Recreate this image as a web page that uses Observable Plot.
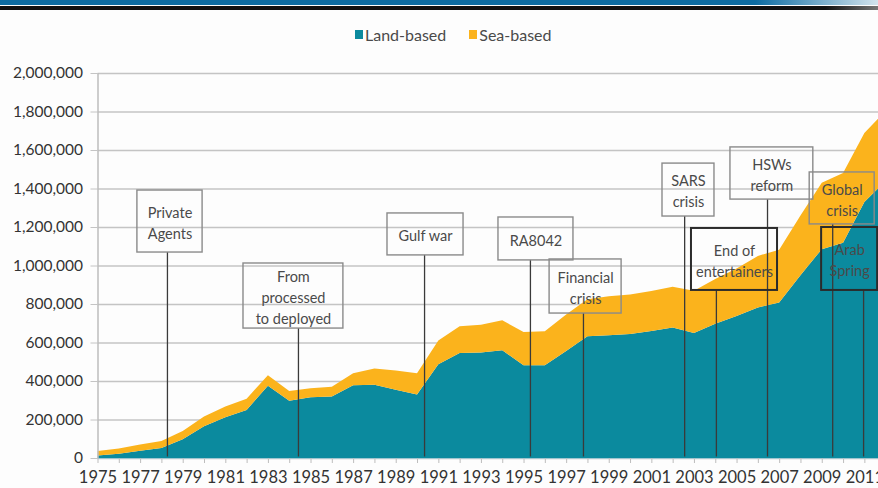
<!DOCTYPE html>
<html>
<head>
<meta charset="utf-8">
<script src="https://cdn.jsdelivr.net/npm/d3@7"></script>
<script src="https://cdn.jsdelivr.net/npm/@observablehq/plot@0.6"></script>
<style>
  html, body { margin: 0; padding: 0; }
  body { width: 878px; height: 488px; overflow: hidden; position: relative; background: #fdfdfd; font-family: Lato, "Open Sans", sans-serif; }
  #bar { position: absolute; left: 0; top: 0; width: 878px; height: 5px; background: linear-gradient(to right, #0d6ca2 0%, #0d6ca2 86%, #d3e4ee 100%); }
  #rule { position: absolute; left: 0; top: 6px; width: 878px; height: 4px; background: linear-gradient(to right, #111 0%, #111 94%, #777 100%); }
  #legend { position: absolute; top: 24px; left: 355px; height: 20px; display: flex; align-items: center; font-size: 16px; color: #4a4a4a; white-space: nowrap; }
  #legend .sw { display: inline-block; width: 8px; height: 9px; margin-right: 2px; }
  #legend .gap { display: inline-block; width: 23px; }
  #chart { position: absolute; left: 0; top: 50px; }
</style>
</head>
<body>
<div id="bar"></div>
<div id="rule"></div>
<div id="legend"></div>
<div id="chart"></div>
<script>
// ---- data ----
const years = [1975,1976,1977,1978,1979,1980,1981,1982,1983,1984,1985,1986,1987,1988,1989,1990,1991,1992,1993,1994,1995,1996,1997,1998,1999,2000,2001,2002,2003,2004,2005,2006,2007,2008,2009,2010,2011,2012];
const landBased = [13000,22000,38000,52000,98000,165000,212000,250000,375000,298000,315000,320000,378000,380000,355000,330000,487000,545000,548000,560000,482000,482000,556000,632000,638000,644000,660000,678000,650000,698000,738000,782000,808000,950000,1085000,1118000,1330000,1440000];
const seaBased  = [24000,28000,32000,36000,42000,50000,55000,58000,55000,50000,47000,50000,62000,85000,100000,110000,123000,139000,144000,155000,173000,176000,190000,193000,202000,206000,208000,212000,219000,232000,247000,268000,274000,310000,345000,362000,358000,365000];
const seriesNames = ["Land-based", "Sea-based"];
const seriesColors = ["#0b8a9e", "#fbb31c"];
const yTicks = [0,200000,400000,600000,800000,1000000,1200000,1400000,1600000,1800000,2000000];
const xLabelYears = [1975,1977,1979,1981,1983,1985,1987,1989,1991,1993,1995,1997,1999,2001,2003,2005,2007,2009,2011];

// annotation boxes: line = year of pointer line, box extent in years / values
const noteLabels = ["Private\nAgents","From\nprocessed\nto deployed","Gulf war","RA8042","Financial\ncrisis","SARS\ncrisis","End of\nentertainers","HSWs\nreform","Global\ncrisis","Arab\nSpring"];
const noteLineYear = [1978.26,1984.41,1990.33,1995.30,1997.79,2002.54,2004.03,2006.43,2009.49,2010.94];
const noteBoxX1 = [1976.85,1981.83,1988.59,1993.80,1996.20,2001.50,2002.86,2004.69,2008.41,2008.97];
const noteBoxX2 = [1979.91,1986.52,1992.16,1997.32,1999.58,2003.94,2006.90,2008.58,2011.46,2011.60];
const noteBoxTop = [1392000,1013000,1273000,1252000,1034000,1532000,1195000,1616000,1486000,1200000];
const noteBoxBottom = [1070000,675000,1055000,1029000,753000,1257000,873000,1345000,1216000,873000];
const noteDark = [false,false,false,false,false,false,true,false,false,true];

// ---- tables ----
const table = [];
years.forEach((yr, i) => {
  table.push({year: yr, type: seriesNames[0], value: landBased[i]});
  table.push({year: yr, type: seriesNames[1], value: seaBased[i]});
});
const notes = noteLabels.map((label, i) => ({
  label, line: noteLineYear[i], x1: noteBoxX1[i], x2: noteBoxX2[i],
  top: noteBoxTop[i], bottom: noteBoxBottom[i], dark: noteDark[i],
  cx: (noteBoxX1[i] + noteBoxX2[i]) / 2, cy: (noteBoxTop[i] + noteBoxBottom[i]) / 2
}));

// ---- legend ----
const legend = document.getElementById("legend");
seriesNames.forEach((name, i) => {
  if (i > 0) { const g = document.createElement("span"); g.className = "gap"; legend.appendChild(g); }
  const sw = document.createElement("span"); sw.className = "sw"; sw.style.background = seriesColors[i];
  legend.appendChild(sw);
  const t = document.createElement("span"); t.textContent = name; legend.appendChild(t);
});

// ---- chart ----
const chart = Plot.plot({
  width: 878,
  height: 438,
  marginLeft: 97.5,
  marginRight: 0,
  marginTop: 23,
  marginBottom: 30,
  style: { fontFamily: "Lato, 'Open Sans', sans-serif", background: "transparent", overflow: "visible" },
  x: { type: "linear", domain: [1975, 2011.64] },
  y: { domain: [0, 2000000] },
  color: { domain: seriesNames, range: seriesColors },
  marks: [
    Plot.gridY(yTicks, { stroke: "#c4c4c4", strokeOpacity: 1, strokeWidth: 1.5 }),
    Plot.areaY(table, { x: "year", y: "value", fill: "type", clip: true }),
    Plot.ruleY([0], { stroke: "#9fc6d0", strokeWidth: 1 }),
    Plot.ruleX([1975], { y1: 0, y2: 2000000, stroke: "#bdbdbd", strokeWidth: 1.5 }),
    Plot.ruleX(notes, { x: "line", y1: "bottom", y2: 8000, stroke: "#3a3a3a", strokeWidth: 1.3 }),
    Plot.rect(notes, { x1: "x1", x2: "x2", y1: "bottom", y2: "top", fill: "none",
      stroke: d => d.dark ? "#2b2b2b" : "#8a8a8a", strokeWidth: d => d.dark ? 2 : 1.4 }),
    Plot.text(notes, { x: "cx", y: "cy", text: "label", lineHeight: 1.45, fontSize: 14.5, fill: "#4a4a4a" }),
    Plot.axisY({ ticks: yTicks, tickSize: 7, tickPadding: 8, stroke: "#c4c4c4", fill: "#333",
      fontSize: 15.5, tickFormat: d3.format(","), label: null }),
    Plot.axisX({ ticks: years, tickSize: 5, stroke: "#bdbdbd", tickFormat: () => "", label: null }),
    Plot.axisX({ ticks: xLabelYears, tickSize: 0, tickPadding: 13, fill: "#333", fontSize: 16.5,
      tickFormat: d => String(d), label: null })
  ]
});
document.getElementById("chart").appendChild(chart);
</script>
</body>
</html>
